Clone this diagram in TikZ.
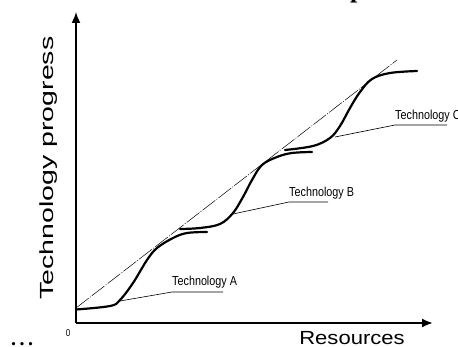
\documentclass[tikz,border=0pt]{standalone}
\usepackage{fontspec}
\setmainfont{Liberation Sans}
\newfontfamily\serifbold{Liberation Serif}
\usetikzlibrary{arrows.meta}
\begin{document}
\begin{tikzpicture}[x=1pt,y=-1pt,
  axisline/.style={line width=1.6pt,-{Latex[length=11pt,width=9pt]}},
  scurve/.style={line width=2.2pt,line cap=round},
  tangentline/.style={line width=0.5pt,dash pattern=on 16pt off 1.5pt on 1pt off 1.5pt},
  leader/.style={line width=0.6pt},
  techlabel/.style={font=\fontsize{13}{13}\selectfont,anchor=base west,inner sep=0pt},
  axislabel/.style={font=\fontsize{19}{19}\selectfont,inner sep=0pt}]
\useasboundingbox (0,0) rectangle (458,347);
% axes
\coordinate (O) at (76,323);
\coordinate (ytip) at (76,12);
\coordinate (xtip) at (433,323);
\draw[axisline] (O) -- (ytip);
\draw[axisline,line width=2pt] (O) -- (xtip);
% axis labels
\node[axislabel,rotate=90,anchor=base] (ylab) at (53,168) {\scalebox{1.5}[1]{Technology progress}};
\node[axislabel,anchor=base] (xlab) at (352,344.5) {\scalebox{1.16}[1]{Resources}};
\node[inner sep=0pt,font=\fontsize{10}{10}\selectfont] (zero) at (68,333) {\scalebox{0.8}[1]{0}};
\node[inner sep=0pt,anchor=base west,font=\serifbold\bfseries\fontsize{20}{20}\selectfont] (dots) at (11,346) {.\kern3.5pt.\kern3.5pt.};
\node[inner sep=0pt,anchor=base west,font=\serifbold\bfseries\fontsize{26}{26}\selectfont] (ptitle) at (350,-2.5) {p};
% tangent
\coordinate (t1) at (76,308);
\coordinate (t2) at (397,60);
\draw[tangentline] (t1) -- (t2);
% S curves
\draw[scurve] plot[smooth,tension=0.6] coordinates {(76,309.5) (110,306) (120,300) (133,283) (147,260) (157,248) (173,238) (187,233) (207,232)};
\draw[scurve] plot[smooth,tension=0.6] coordinates {(180,229) (200,228) (220,224) (233,213) (243,197) (252,180) (262,165) (277,157) (292,153) (312,152)};
\draw[scurve] plot[smooth,tension=0.6] coordinates {(285,150) (313,146) (330,138) (340,126) (350,108) (360,92) (372,79) (390,73) (417,71)};
% labels
\node[techlabel] (la) at (172,286) {\scalebox{0.83}[1]{Technology A}};
\node[techlabel] (lb) at (289,197) {\scalebox{0.83}[1]{Technology B}};
\node[techlabel] (lc) at (395,120) {\scalebox{0.83}[1]{Technology C}};
\coordinate (pa) at (120,301);
\coordinate (pb) at (233,214);
\coordinate (pc) at (335,137);
\draw[leader] (pa) -- (la.south west |- 0,292) -- (223,292);
\draw[leader] (pb) -- (lb.south west |- 0,202) -- (328,202);
\draw[leader] (pc) -- (lc.south west |- 0,125) -- (447,125);
\end{tikzpicture}
\end{document}
